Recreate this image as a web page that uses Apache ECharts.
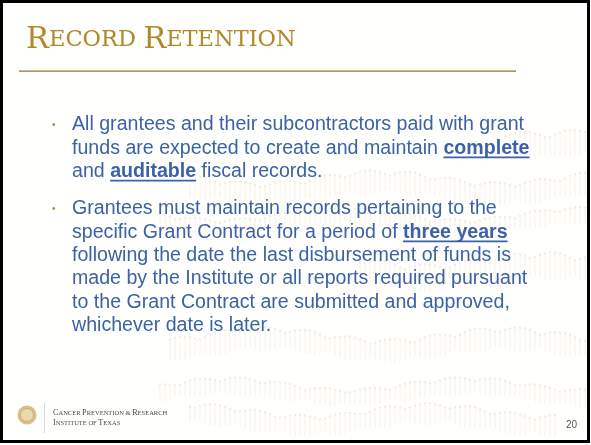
<!DOCTYPE html>
<html><head><meta charset="utf-8">
<script src="https://cdn.jsdelivr.net/npm/echarts@6/dist/echarts.min.js"></script>
<style>html,body{margin:0;padding:0;background:#fff}#c{width:591px;height:445px}</style>
</head><body><div id="c"></div>
<script>
const titleText = "Record Retention";
const bullet1 = [
  [["All grantees and their subcontractors paid with grant", false]],
  [["funds are expected to create and maintain ", false], ["complete", true]],
  [["and ", false], ["auditable", true], [" fiscal records.", false]]
];
const bullet2 = [
  [["Grantees must maintain records pertaining to the", false]],
  [["specific Grant Contract for a period of ", false], ["three years", true]],
  [["following the date the last disbursement of funds is", false]],
  [["made by the Institute or all reports required pursuant", false]],
  [["to the Grant Contract are submitted and approved,", false]],
  [["whichever date is later.", false]]
];
const footerLines = ["Cancer Prevention & Research", "Institute of Texas"];
const pageNumber = "20";

const FS = 19.6, FONT = '"Liberation Sans", Arial, sans-serif';
const BLUE = '#3b62a6', GOLD = '#b0892b';
const cv = document.createElement('canvas').getContext('2d');
function tw(t, bold){ cv.font = (bold?'bold ':'') + FS + 'px ' + FONT; return cv.measureText(t).width; }

const g = [];
g.push({type:'rect', shape:{x:0,y:0,width:591,height:445}, style:{fill:'#fffffe'}, z:0});
const bands = [
  {x0:505,x1:588,yc:140,h:14},{x0:190,x1:588,yc:188,h:12},{x0:160,x1:588,yc:222,h:9},
  {x0:360,x1:588,yc:272,h:14},{x0:170,x1:588,yc:345,h:12},{x0:160,x1:588,yc:392,h:9},{x0:190,x1:560,yc:420,h:11}
];
bands.forEach((b,bi)=>{
  for(let x=b.x0, i=0; x<b.x1; x+=5, i++){
    const hh = b.h*(0.55+0.45*Math.abs(Math.sin(i*0.37+bi)));
    const yc = b.yc + 6*Math.sin(x/38+bi);
    g.push({type:'line', shape:{x1:x,y1:yc-hh,x2:x,y2:yc+hh}, style:{stroke:'rgba(225,195,150,0.2)',lineWidth:1.2}, z:1, silent:true});
    g.push({type:'circle', shape:{cx:x,cy:yc-hh,r:1.2}, style:{fill:'rgba(225,195,150,0.25)'}, z:1, silent:true});
  }
});
const words = titleText.toUpperCase().split(' ');
const rich = {big:{fontFamily:'"DejaVu Serif", serif', fontSize:30.5, fill:GOLD}, sm:{fontFamily:'"DejaVu Serif", serif', fontSize:22.5, fill:GOLD}};
let tstr = words.map(w=>'{big|'+w[0]+'}{sm|'+w.slice(1)+'}').join('{sm| }');
g.push({type:'text', x:26, y:56, style:{text:tstr, rich:rich, verticalAlign:'bottom', fill:GOLD}, z:5});
g.push({type:'rect', shape:{x:19,y:70.5,width:497,height:1.3}, style:{fill:'#9a7230'}, z:5});

function drawBullet(lines, y0){
  g.push({type:'text', x:52, y:y0, style:{text:'•', fontSize:10, fill:GOLD, fontFamily:FONT, verticalAlign:'middle'}, z:5});
  lines.forEach((segs, li)=>{
    const y = y0 + li*23.3;
    let x = 72;
    segs.forEach(([t,b])=>{
      g.push({type:'text', x:x, y:y, style:{text:t, fontSize:FS, fontFamily:FONT, fontWeight:b?'bold':'normal', fill:BLUE, verticalAlign:'middle'}, z:5});
      const w = tw(t,b);
      if(b) g.push({type:'line', shape:{x1:x,y1:y+9,x2:x+w,y2:y+9}, style:{stroke:BLUE,lineWidth:1.8}, z:5});
      x += w;
    });
  });
}
drawBullet(bullet1, 125);
drawBullet(bullet2, 209);

g.push({type:'circle', shape:{cx:27,cy:415,r:9.5}, style:{fill:'#dcbf86'}, z:5});
g.push({type:'circle', shape:{cx:27,cy:415,r:6.5}, style:{fill:'#ecd9ae', stroke:'#c9a664', lineWidth:0.8}, z:5});
g.push({type:'line', shape:{x1:44.5,y1:403,x2:44.5,y2:433}, style:{stroke:'#d8d8d8',lineWidth:1}, z:5});
const frich = {b:{fontFamily:'"Liberation Serif", serif', fontSize:8.2, fill:'#4a4a4a'}, s:{fontFamily:'"Liberation Serif", serif', fontSize:6.5, fill:'#4a4a4a'}};
footerLines.forEach((ln,i)=>{
  const s = ln.split(' ').map(w=>{
    const up=w.toUpperCase();
    if(/[A-Z]/.test(w[0]) && w.length>2) return '{b|'+up[0]+'}{s|'+up.slice(1)+'}';
    return '{s|'+up+'}';
  }).join('{s| }');
  g.push({type:'text', x:53, y:417+i*10, style:{text:s, rich:frich, verticalAlign:'bottom'}, z:5});
});
g.push({type:'text', x:577, y:425, style:{text:pageNumber, fontSize:10, fontFamily:FONT, fill:'#555', align:'right', verticalAlign:'middle'}, z:5});
g.push({type:'rect', shape:{x:1.5,y:1.5,width:587,height:440}, style:{fill:null, stroke:'#000', lineWidth:3}, z:10});

const chart = echarts.init(document.getElementById('c'), null, {renderer:'canvas'});
chart.setOption({animation:false, graphic:{elements:g}});
</script></body></html>
